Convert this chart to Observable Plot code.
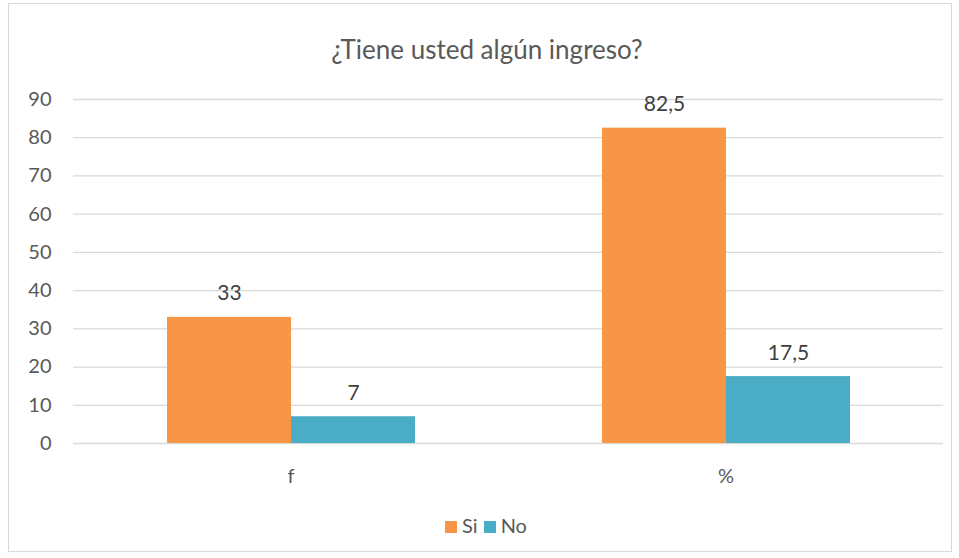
<!DOCTYPE html>
<html><head><meta charset="utf-8">
<script src="https://cdn.jsdelivr.net/npm/d3@7"></script>
<script src="https://cdn.jsdelivr.net/npm/@observablehq/plot@0.6"></script>
<style>
body{margin:0;background:#fff;font-family:Lato,"Open Sans",sans-serif;}
#frame{position:absolute;left:8px;top:3px;width:944px;height:549px;border:1px solid #d9d9d9;box-sizing:border-box;}
#title{position:absolute;left:0;top:33px;width:974px;text-align:center;font-size:26px;color:#595959;}
#chart{position:absolute;left:0;top:85px;}
#legend{position:absolute;left:0;top:513px;width:972px;text-align:center;font-size:20px;color:#595959;}
#legend span.sw{display:inline-block;width:12px;height:12px;margin-right:5px;vertical-align:middle;position:relative;top:-1px;}
#legend span.it{margin:0 3px;}
</style></head><body>
<div id="frame"></div>
<div id="title">¿Tiene usted algún ingreso?</div>
<div id="chart"></div>
<div id="legend"></div>
<script>
const categories = ["f", "%"];
const series = ["Si", "No"];
const siValues = [33, 82.5];
const noValues = [7, 17.5];
const yTicks = [0, 10, 20, 30, 40, 50, 60, 70, 80, 90];
const colors = ["#F79646", "#4BACC6"];

const data = [];
categories.forEach((c, i) => {
  data.push({cat: c, serie: "Si", value: siValues[i]});
  data.push({cat: c, serie: "No", value: noValues[i]});
});
const fmt = v => String(v).replace(".", ",");

const chart = Plot.plot({
  width: 959,
  height: 410,
  marginTop: 14,
  marginBottom: 52,
  marginLeft: 72,
  marginRight: 16,
  style: {fontFamily: "Lato, 'Open Sans', sans-serif", fontSize: "20px", color: "#595959"},
  fx: {domain: categories, padding: 0, label: null, axis: "bottom", tickSize: 0, tickPadding: 25},
  x: {domain: series, paddingInner: 0, paddingOuter: 0.75, axis: null},
  y: {domain: [0, 90], ticks: yTicks, label: null},
  color: {domain: series, range: colors},
  marks: [
    Plot.ruleY(yTicks, {stroke: "#d9d9d9", strokeWidth: 1.3}),
    Plot.axisY(yTicks, {tickSize: 0, tickPadding: 22, label: null, fill: "#595959", fontSize: 20}),
    Plot.barY(data, {fx: "cat", x: "serie", y: "value", fill: "serie"}),
    Plot.text(data, {fx: "cat", x: "serie", y: "value", text: d => fmt(d.value), lineAnchor: "bottom", dy: -17, fill: "#404040", fontSize: 21})
  ]
});
document.getElementById("chart").appendChild(chart);

const legend = document.getElementById("legend");
series.forEach((s, i) => {
  const it = document.createElement("span");
  it.className = "it";
  it.innerHTML = `<span class="sw" style="background:${colors[i]}"></span>${s}`;
  legend.appendChild(it);
});
</script>
</body></html>
